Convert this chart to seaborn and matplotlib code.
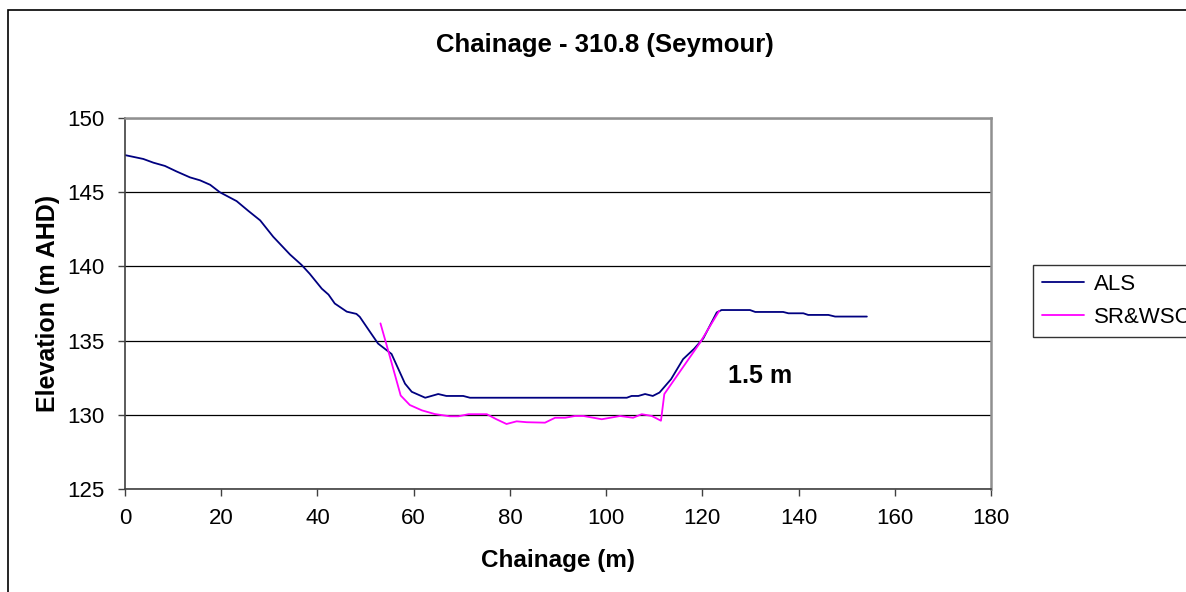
import pandas as pd
import matplotlib
matplotlib.use("Agg")
import matplotlib.pyplot as plt
import seaborn as sns
from matplotlib.patches import Rectangle

# --- dados ---
als_x = [0, 3.8, 5.9, 8.3, 10.7, 13.5, 15.6, 17.7, 19.7, 23.2, 25.6, 28.1, 30.8, 34.3,
         36.7, 38.4, 40.9, 42.3, 43.6, 46.1, 48.1, 48.8, 50.9, 52.6, 55.4, 56.8, 58.2,
         59.6, 62.4, 65.1, 66.8, 70.3, 71.7, 104.3, 105.3, 106.7, 108.1, 109.7, 111.1,
         113.5, 116.0, 118.3, 120.2, 123.0, 124.0, 129.9, 131.0, 136.8, 137.9, 141.0,
         142.0, 146.2, 147.6, 154.2]
als_elev = [147.5, 147.24, 146.99, 146.77, 146.4, 146.0, 145.8, 145.5, 145.0, 144.4,
            143.75, 143.1, 142.0, 140.8, 140.1, 139.5, 138.5, 138.1, 137.5, 136.95,
            136.8, 136.6, 135.6, 134.8, 134.1, 133.1, 132.1, 131.55, 131.15, 131.4,
            131.27, 131.27, 131.15, 131.15, 131.27, 131.27, 131.4, 131.27, 131.5, 132.4,
            133.75, 134.45, 135.15, 136.9, 137.06, 137.06, 136.93, 136.93, 136.84,
            136.84, 136.73, 136.73, 136.62, 136.62]

srw_x = [53.1, 54.9, 57.3, 59.2, 61.7, 64.4, 67.5, 69.3, 71.4, 75.2, 77.2, 79.3, 81.4,
         83.5, 87.3, 89.4, 91.5, 93.5, 95.3, 99.1, 102.9, 105.6, 107.4, 109.5, 111.4,
         112.1, 119.5, 123.5]
srw_elev = [136.16, 134.1, 131.3, 130.66, 130.3, 130.05, 129.9, 129.9, 130.04, 130.04,
            129.7, 129.38, 129.56, 129.5, 129.47, 129.8, 129.8, 129.92, 129.92, 129.7,
            129.92, 129.8, 130.04, 129.92, 129.6, 131.4, 134.85, 137.0]

df = pd.concat([
    pd.DataFrame({"chainage": als_x, "elev": als_elev, "serie": "ALS"}),
    pd.DataFrame({"chainage": srw_x, "elev": srw_elev, "serie": "SR&WSC"}),
], ignore_index=True)

sns.set_theme(style="white")
plt.rcParams["font.family"] = ["Liberation Sans", "DejaVu Sans"]
plt.rcParams["text.color"] = "black"
plt.rcParams["axes.labelcolor"] = "black"
plt.rcParams["xtick.color"] = "black"
plt.rcParams["ytick.color"] = "black"

fig = plt.figure(figsize=(11.86, 5.92), dpi=100)
ax = fig.add_axes([125 / 1186, 1 - 489 / 592, 866 / 1186, 371 / 592])

sns.lineplot(data=df, x="chainage", y="elev", hue="serie", sort=False, estimator=None,
             palette={"ALS": "#000080", "SR&WSC": "#FF00FF"}, linewidth=1.3, ax=ax)

ax.set_xlim(0, 180)
ax.set_ylim(125, 150)
ax.set_xticks(range(0, 181, 20))
ax.set_yticks(range(125, 151, 5))
ax.yaxis.grid(True, color="black", linewidth=0.9)
ax.xaxis.grid(False)
ax.tick_params(axis="both", labelsize=16, length=5, width=1, color="#404040",
               labelcolor="black", direction="out", bottom=True, left=True)
ax.tick_params(axis="x", pad=9)
ax.tick_params(axis="y", pad=10)

for s in ["left", "bottom"]:
    ax.spines[s].set_color("#404040")
    ax.spines[s].set_linewidth(1.2)
for s in ["top", "right"]:
    ax.spines[s].set_color("#909090")
    ax.spines[s].set_linewidth(1.8)

ax.set_xlabel("Chainage (m)", fontsize=17.5, fontweight="bold", labelpad=14)
ax.set_ylabel("Elevation (m AHD)", fontsize=18, fontweight="bold", labelpad=5)
fig.text(605 / 1186, 1 - 45 / 592, "Chainage - 310.8 (Seymour)", ha="center", va="center",
         fontsize=18.5, fontweight="bold")
ax.text(132, 132.6, "1.5 m", fontsize=18, fontweight="bold", ha="center", va="center")

leg = ax.legend(loc="upper left", bbox_to_anchor=(1033 / 1186, 1 - 265 / 592),
                bbox_transform=fig.transFigure, fontsize=16, frameon=True, fancybox=False,
                handlelength=1.9, handletextpad=0.45, borderpad=0.4, labelspacing=0.55,
                borderaxespad=0)
leg.get_frame().set_edgecolor("black")
leg.get_frame().set_linewidth(1.0)
for line in leg.get_lines():
    line.set_linewidth(1.3)

# borda externa do gráfico
fig.patches.append(Rectangle((8 / 1186, -0.1), 1.2, 1 - 10 / 592 + 0.1,
                             transform=fig.transFigure, fill=False,
                             edgecolor="black", linewidth=1.2))

fig.savefig("out.png", dpi=100)
plt.close(fig)
